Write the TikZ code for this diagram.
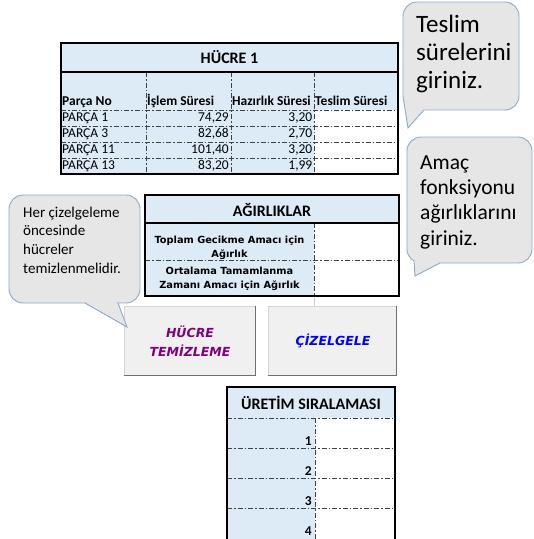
\documentclass[tikz,border=0pt]{standalone}
\usepackage{fontspec}
\setmainfont{Carlito}
\newfontfamily\labelsans{DejaVu Sans}

\definecolor{cellblue}{HTML}{DDEBF7}
\definecolor{notegray}{HTML}{E6E6E6}
\definecolor{noteedge}{HTML}{8EA9C8}
\definecolor{btnface}{HTML}{F0F0F0}
\definecolor{btnshade}{HTML}{6E6E6E}
\definecolor{btnlight}{HTML}{D4D4D4}
\definecolor{gridgray}{HTML}{404040}
\definecolor{hpurple}{HTML}{800080}
\definecolor{hblue}{HTML}{0000FF}

\tikzset{
  dashdot line/.style={line width=.8pt, gridgray, dash pattern=on 5pt off 2pt on 1.5pt off 2pt},
  frame/.style={line width=1.6pt, black},
  note/.style={fill=notegray, draw=noteedge, line width=.9pt, rounded corners=14pt},
  notetext/.style={align=left, inner sep=0pt, anchor=north west},
  titletext/.style={inner sep=0pt, font={\bfseries\fontsize{16}{19}\selectfont}},
  headtext/.style={inner sep=0pt, anchor=base west, font={\bfseries\fontsize{13.5}{16}\selectfont}},
  celltext/.style={inner sep=0pt, font={\fontsize{13.5}{16}\selectfont}},
  weighttext/.style={inner sep=0pt, align=center, font={\labelsans\bfseries\fontsize{9.8}{14.5}\selectfont}},
  button/.style={fill=btnface},
  btntext/.style={inner sep=0pt, align=center, font={\labelsans\bfseries\itshape\fontsize{12.5}{18.5}\selectfont}}
}

\begin{document}
\begin{tikzpicture}[x=1pt,y=-1pt]
\useasboundingbox (0,0) rectangle (534,539);

% HÜCRE 1
\fill[cellblue] (61,43) rectangle (398,174);
\fill[white] (314,110) rectangle (398,174);
\foreach \y in {110,126,142,158} \draw[dashdot line] (61,\y) -- (398,\y);
\foreach \x in {146,231,314} \draw[dashdot line] (\x,72) -- (\x,174);
\draw[frame] (61,72) -- (398,72);
\draw[frame] (61,43) rectangle (398,174);
\node[titletext] (hucre) at (229.5,57.5) {HÜCRE 1};
\foreach \x/\t [count=\c] in {62/Parça No,147/İşlem Süresi,232/Hazırlık Süresi,315/Teslim Süresi}
  \node[headtext] (head\c) at (\x,105) {\t};
\foreach \i/\p/\a/\b in {1/PARÇA 1/{74,29}/{3,20}, 2/PARÇA 3/{82,68}/{2,70},
                         3/PARÇA 11/{101,40}/{3,20}, 4/PARÇA 13/{83,20}/{1,99}} {
  \node[celltext,anchor=west] (part\i) at (62,102+16*\i) {\p};
  \node[celltext,anchor=east] (proc\i) at (229,102+16*\i) {\a};
  \node[celltext,anchor=east] (setup\i) at (312.5,102+16*\i) {\b};
}

% AĞIRLIKLAR
\fill[cellblue] (145,195) rectangle (399,296);
\fill[white] (314,223) rectangle (399,296);
\draw[dashdot line] (145,260) -- (399,260);
\draw[dashdot line] (314,223) -- (314,296);
\draw[line width=.8pt, gray!40] (314,297) -- (314,306);
\draw[frame] (145,223) -- (399,223);
\draw[frame] (145,195) rectangle (399,296);
\node[titletext] (agirlik) at (272,209.5) {AĞIRLIKLAR};
\node[weighttext] (gecikme) at (229.5,248) {Toplam Gecikme Amacı için\\Ağırlık};
\node[weighttext] (tamam) at (229.5,279) {Ortalama Tamamlanma\\Zamanı Amacı için Ağırlık};

% buttons
\foreach \n/\l/\r in {temizle/124/256, cizelge/268/397} {
  \fill[button] (\l,306) rectangle (\r,376);
  \draw[btnlight, line width=.8pt] (\l+.5,376) -- (\l+.5,306.5) -- (\r,306.5);
  \draw[btnshade, line width=1.5pt] (\l,375.5) -- (\r-.5,375.5) -- (\r-.5,306);
}
\node[btntext, hpurple] (temizleme) at (190,341) {HÜCRE\\TEMİZLEME};
\node[btntext, hblue] (cizelgele) at (333,341) {ÇİZELGELE};

% ÜRETİM SIRALAMASI
\fill[cellblue] (227,387) rectangle (395,539);
\fill[white] (315,418) rectangle (395,539);
\foreach \y in {418,448,478,508} \draw[dashdot line] (227,\y) -- (395,\y);
\draw[dashdot line] (315,418) -- (315,539);
\draw[frame] (227,540) -- (227,387) -- (395,387) -- (395,540);
\node[titletext] (uretim) at (311,402.5) {ÜRETİM SIRALAMASI};
\foreach \k in {1,...,4}
  \node[headtext, anchor=base east] (sira\k) at (312,415+30*\k) {\k};

% callouts
\draw[note] (403,2) rectangle (519,110);
\fill[notegray] (403.6,100) -- (408,128) -- (424,110) -- (420,103) -- cycle;
\draw[noteedge, line width=.9pt] (403.6,100) -- (408,128) -- (424,110);
\node[notetext, font={\fontsize{25}{28}\selectfont}] (teslim) at (416,15) {Teslim\\sürelerini\\giriniz.};

\draw[note] (407,137) rectangle (532,263);
\fill[notegray] (414,261.1) -- (415,276) -- (440,263) -- (432,256) -- cycle;
\draw[noteedge, line width=.9pt] (414,261.1) -- (415,276) -- (440,263);
\node[notetext, font={\fontsize{21.5}{25.5}\selectfont}] (amac) at (420,155) {Amaç\\fonksiyonu\\ağırlıklarını\\giriniz.};

\draw[note] (9,195) rectangle (140,303);
\fill[notegray] (85,303) -- (127,327) -- (118,303) -- (100,297) -- cycle;
\draw[noteedge, line width=.9pt] (85,303) -- (127,327) -- (118,303);
\node[notetext, font={\fontsize{15}{18.7}\selectfont}] (uyari) at (23,206.5) {Her çizelgeleme\\öncesinde\\hücreler\\temizlenmelidir.};

\end{tikzpicture}
\end{document}
